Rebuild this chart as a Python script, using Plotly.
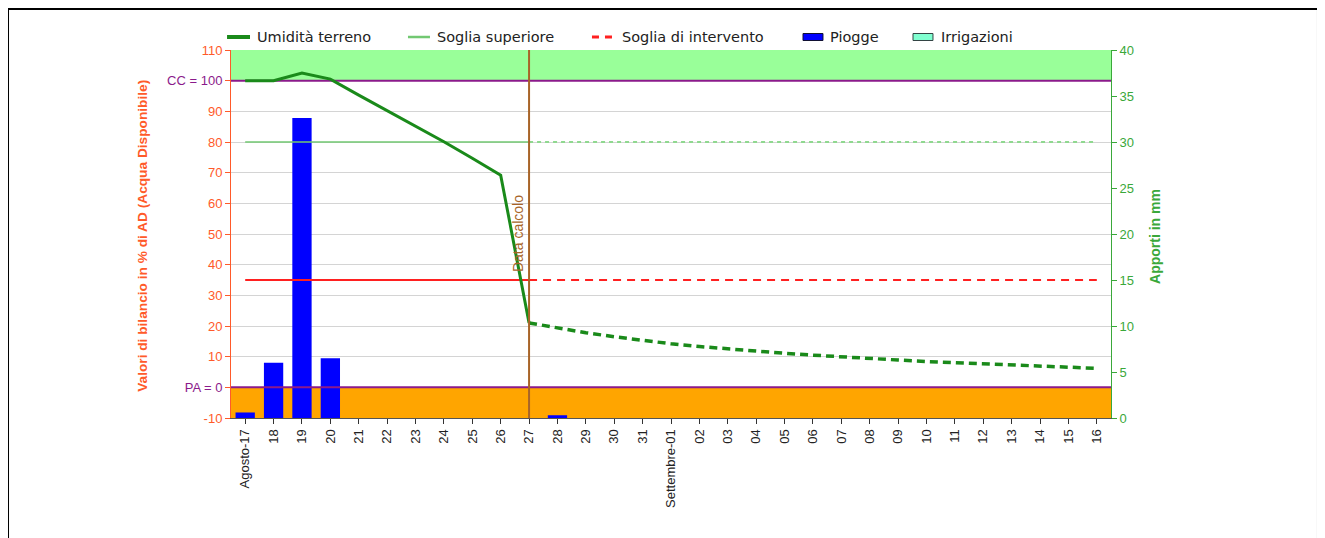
import plotly.graph_objects as go

# ---------------- data ----------------
giorni = ["Agosto-17", "18", "19", "20", "21", "22", "23", "24", "25", "26", "27",
          "28", "29", "30", "31", "Settembre-01", "02", "03", "04", "05", "06",
          "07", "08", "09", "10", "11", "12", "13", "14", "15", "16"]

piogge_mm = [0.6, 6.0, 32.6, 6.5, 0, 0, 0, 0, 0, 0, 0,
             0.3, 0, 0, 0, 0, 0, 0, 0, 0, 0,
             0, 0, 0, 0, 0, 0, 0, 0, 0, 0]
irrigazioni_mm = [0] * 31

# observed soil moisture (Agosto-17 .. 27)
umidita_oss = [100, 100, 102.5, 100.5, 95.3, 90.2, 85.2, 80.1, 74.7, 69.2, 21]
# forecast soil moisture (27 .. Settembre-16)
umidita_prev = [21, 19.3, 17.8, 16.5, 15.3, 14.2, 13.3, 12.5, 11.8, 11.1, 10.5,
                9.9, 9.4, 8.9, 8.4, 8.0, 7.6, 7.2, 6.9, 6.6, 6.2]

soglia_superiore = 80
soglia_intervento = 35
capacita_campo = 100
punto_appassimento = 0
giorno_calcolo = "27"

left_ticks = [-10, 0, 10, 20, 30, 40, 50, 60, 70, 80, 90, 100, 110]
right_ticks = [0, 5, 10, 15, 20, 25, 30, 35, 40]

legend_labels = ["Umidità terreno", "Soglia superiore", "Soglia di intervento",
                 "Piogge", "Irrigazioni"]

# ---------------- derived ----------------
n = len(giorni)
xs = list(range(n))
i_calc = giorni.index(giorno_calcolo)
x_oss = xs[: i_calc + 1]
x_prev = xs[i_calc:]

ORANGE = "#ff5a2a"
GREEN_AX = "#3aa83a"
PURPLE = "#8b1a8b"
C_UMID = "#1a8a1a"
C_SUP = "#72c872"
C_SUP2 = "#8fd88f"
C_INT = "#ff2020"
C_PIOG = "#0000ff"
C_IRR = "#80ffd0"

fig = go.Figure()

# bars on primary (right side) axis
fig.add_trace(go.Bar(x=xs, y=piogge_mm, name="Piogge", yaxis="y",
                     marker=dict(color=C_PIOG, line=dict(width=0)), width=0.68))
fig.add_trace(go.Bar(x=xs, y=irrigazioni_mm, name="Irrigazioni", yaxis="y",
                     marker=dict(color=C_IRR, line=dict(width=0)), width=0.68))

# purple CC / PA lines
for v in (capacita_campo, punto_appassimento):
    fig.add_trace(go.Scatter(x=[-0.5, n - 0.5], y=[v, v], yaxis="y2", mode="lines",
                             line=dict(color=PURPLE, width=2), hoverinfo="skip"))

# thresholds
fig.add_trace(go.Scatter(x=x_oss, y=[soglia_superiore] * len(x_oss), yaxis="y2",
                         mode="lines", name="Soglia superiore",
                         line=dict(color=C_SUP, width=1.5)))
fig.add_trace(go.Scatter(x=x_prev, y=[soglia_superiore] * len(x_prev), yaxis="y2",
                         mode="lines", line=dict(color=C_SUP2, width=2, dash="4px,4px")))
fig.add_trace(go.Scatter(x=x_oss, y=[soglia_intervento] * len(x_oss), yaxis="y2",
                         mode="lines", line=dict(color=C_INT, width=2)))
fig.add_trace(go.Scatter(x=x_prev, y=[soglia_intervento] * len(x_prev), yaxis="y2",
                         mode="lines", name="Soglia di intervento",
                         line=dict(color=C_INT, width=2, dash="8px,6px")))

# soil moisture
fig.add_trace(go.Scatter(x=x_oss, y=umidita_oss, yaxis="y2", mode="lines",
                         name="Umidità terreno", line=dict(color=C_UMID, width=3)))
fig.add_trace(go.Scatter(x=x_prev, y=umidita_prev, yaxis="y2", mode="lines",
                         line=dict(color=C_UMID, width=3.5, dash="8px,5px")))

left_text = []
for v in left_ticks:
    if v == capacita_campo:
        left_text.append(f"<span style='color:{PURPLE}'>CC = {v}</span>")
    elif v == punto_appassimento:
        left_text.append(f"<span style='color:{PURPLE}'>PA = {v}</span>")
    else:
        left_text.append(str(v))

shapes = [
    dict(type="rect", xref="paper", yref="paper", x0=0, x1=1, y0=(100 + 10) / 120, y1=1,
         fillcolor="#99ff99", line=dict(width=0), layer="below"),
    dict(type="rect", xref="paper", yref="paper", x0=0, x1=1, y0=0, y1=10 / 120,
         fillcolor="#ffa500", line=dict(width=0), layer="below"),
    dict(type="line", xref="x", yref="paper", x0=i_calc, x1=i_calc, y0=0, y1=1,
         line=dict(color="#a86428", width=2), layer="above"),
    dict(type="rect", xref="paper", yref="paper", x0=-0.2534, x1=1.2352, y0=-0.4, y1=1.1114,
         line=dict(color="#000000", width=2), fillcolor="rgba(0,0,0,0)", layer="above"),
]

# ---- custom legend (paper coordinates) ----
LY = 1.0353
LH = 0.0095
sym_x = [(-0.0045, 0.0216), (0.2011, 0.2261), (0.4102, 0.4330), (0.6500, 0.6727),
         (0.7750, 0.7977)]
txt_x = [0.0270, 0.2318, 0.4420, 0.6783, 0.8045]
shapes.append(dict(type="line", xref="paper", yref="paper", x0=sym_x[0][0], x1=sym_x[0][1],
                   y0=LY, y1=LY, line=dict(color=C_UMID, width=4)))
shapes.append(dict(type="line", xref="paper", yref="paper", x0=sym_x[1][0], x1=sym_x[1][1],
                   y0=LY, y1=LY, line=dict(color=C_SUP, width=2.5)))
shapes.append(dict(type="line", xref="paper", yref="paper", x0=sym_x[2][0], x1=sym_x[2][1],
                   y0=LY, y1=LY, line=dict(color=C_INT, width=3, dash="7px,6px")))
shapes.append(dict(type="rect", xref="paper", yref="paper", x0=sym_x[3][0], x1=sym_x[3][1],
                   y0=LY - LH, y1=LY + LH, fillcolor=C_PIOG, line=dict(color="#111133", width=1)))
shapes.append(dict(type="rect", xref="paper", yref="paper", x0=sym_x[4][0], x1=sym_x[4][1],
                   y0=LY - LH, y1=LY + LH, fillcolor=C_IRR, line=dict(color="#334444", width=1)))

annotations = []
for lbl, tx in zip(legend_labels, txt_x):
    annotations.append(dict(text=lbl, xref="paper", yref="paper", x=tx, y=LY,
                            xanchor="left", yanchor="middle", showarrow=False,
                            font=dict(family="DejaVu Sans, Verdana", size=14.5,
                                      color="#222222")))

annotations += [
    dict(text="Data calcolo", x=i_calc, xref="x", y=50, yref="y2", textangle=-90,
         showarrow=False, xanchor="right", yanchor="middle", xshift=-1,
         font=dict(family="Liberation Sans, Arial", size=14, color="#a86428")),
    dict(text="<b>Valori di bilancio in % di AD (Acqua Disponibile)</b>", xref="paper",
         yref="paper", x=-0.1, y=0.495, textangle=-90, showarrow=False,
         xanchor="center", yanchor="middle",
         font=dict(family="Liberation Sans, Arial", size=13.7, color=ORANGE)),
    dict(text="<b>Apporti in mm</b>", xref="paper", yref="paper", x=1.05, y=0.492,
         textangle=-90, showarrow=False, xanchor="center", yanchor="middle",
         font=dict(family="Liberation Sans, Arial", size=14, color=GREEN_AX)),
]

fig.update_layout(
    width=1325, height=538,
    margin=dict(l=223, r=222, t=42, b=128, pad=0),
    paper_bgcolor="white", plot_bgcolor="white",
    barmode="overlay",
    showlegend=False,
    xaxis=dict(range=[-0.5, n - 0.5], tickmode="array", tickvals=xs, ticktext=giorni,
               tickangle=-90, ticks="outside", ticklen=5, tickcolor="#333333",
               showline=True, linecolor="#555555", linewidth=1, showgrid=False,
               zeroline=False,
               tickfont=dict(family="Liberation Sans, Arial", size=13, color="#222222")),
    yaxis=dict(range=[0, 40], side="right", tickmode="array", tickvals=right_ticks,
               ticks="outside", ticklen=5, tickcolor=GREEN_AX, showline=True,
               linecolor=GREEN_AX, linewidth=1, showgrid=False, zeroline=False,
               tickfont=dict(family="Liberation Sans, Arial", size=13, color=GREEN_AX)),
    yaxis2=dict(range=[-10, 110], side="left", overlaying="y", tickmode="array",
                tickvals=left_ticks, ticktext=left_text, ticks="outside", ticklen=5,
                tickcolor=ORANGE, showline=True, linecolor=ORANGE, linewidth=1,
                showgrid=True, gridcolor="#d4d4d4", gridwidth=1, zeroline=False,
                tickfont=dict(family="Liberation Sans, Arial", size=13, color=ORANGE)),
    shapes=shapes,
    annotations=annotations,
)

fig.write_html("out.html")
